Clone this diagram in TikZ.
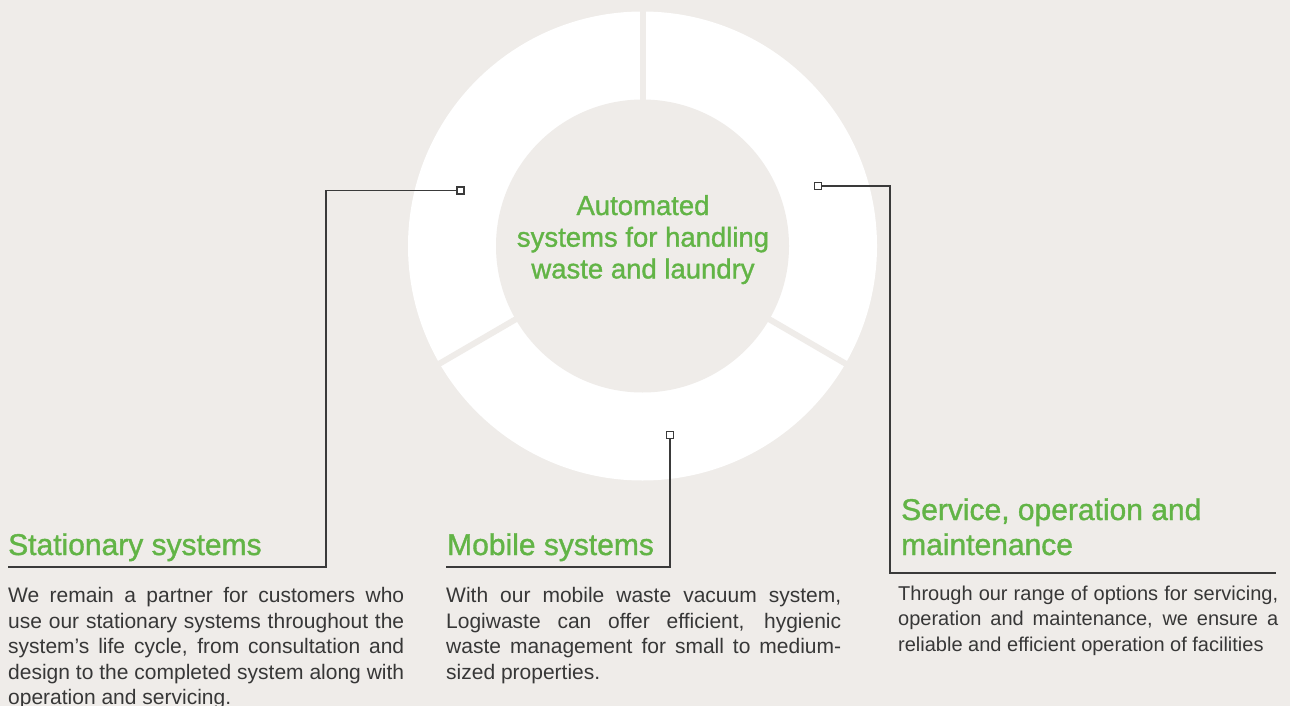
\documentclass[tikz,border=0pt]{standalone}
\usepackage{fontspec}
\setmainfont{Liberation Sans}
\newfontfamily\medfont[FakeBold=1.2]{Liberation Sans}
\definecolor{bgc}{RGB}{239,236,233}
\definecolor{grn}{RGB}{98,180,70}
\definecolor{txt}{RGB}{55,55,55}
\definecolor{lnc}{RGB}{58,58,58}
\tikzset{
  marker/.style={draw=lnc, line width=1.5pt, fill=white, minimum size=7pt, inner sep=0pt, rectangle},
  conn/.style={draw=lnc, line width=1.6pt},
  gap/.style={draw=bgc, line width=6pt},
  title/.style={text=grn, anchor=base west, inner sep=0pt, font=\medfont\fontsize{30}{35}\selectfont},
  body/.style={text=txt, anchor=base west, inner sep=0pt, align=justify},
}
\begin{document}
\begin{tikzpicture}[x=1pt,y=-1pt]
\fill[bgc] (0,0) rectangle (1290,706);
\useasboundingbox (0,0) rectangle (1290,706);
% donut
\coordinate (c) at (642.5,246);
\fill[white] (c) circle[radius=234.5pt];
\fill[bgc] (c) circle[radius=146.5pt];
\draw[gap] (642.5,106) -- (642.5,4);
\draw[gap] (521.3,316) -- (432,368);
\draw[gap] (763.7,316) -- (853,368);
% center text (base anchor = last line)
\node[text=grn, align=center, inner sep=0pt, anchor=base, font=\medfont\fontsize{27.5}{31.7}\selectfont] (ctr) at (643,278.4) {Automated\\systems for handling\\waste and laundry};
% markers
\node[marker] (sqL) at (460.5,190.5) {};
\node[marker] (sqR) at (818,186) {};
\node[marker] (sqM) at (670,435) {};
% titles
\node[title] (tS) at (8,555) {Stationary systems};
\node[title] (tM) at (447,555) {Mobile systems};
\node[title, align=left] (tV) at (901,555) {Service, operation and\\maintenance};
% connector corners
\coordinate (kL) at (326,190.5);
\coordinate (uL) at (326,567);
\coordinate (eL) at (8,567);
\coordinate (uM) at (670,567);
\coordinate (eM) at (446,567);
\coordinate (kR) at (890,186);
\coordinate (uR) at (890,573);
\coordinate (eR) at (1276,573);
\draw[conn] (sqL.west) -- (kL) -- (uL) -- (eL);
\draw[conn] (sqM.south) -- (uM) -- (eM);
\draw[conn] (sqR.east) -- (kR) -- (uR) -- (eR);
% bodies
\node[body, text width=396pt, font=\fontsize{21}{25.5}\selectfont] (bS) at (8,602.5) {We remain a partner for customers who\linebreak use our stationary systems throughout the\linebreak system's life cycle, from consultation and\linebreak design to the completed system along with\linebreak operation and servicing.};
\node[body, text width=395pt, font=\fontsize{21}{25.5}\selectfont] (bM) at (446,602.5) {With our mobile waste vacuum system,\linebreak Logiwaste can offer efficient, hygienic\linebreak waste management for small to medium-\linebreak sized properties.};
\node[body, text width=380pt, font=\fontsize{20}{25.5}\selectfont] (bV) at (898,600) {Through our range of options for servicing,\linebreak operation and maintenance, we ensure a\linebreak reliable and efficient operation of facilities};
\end{tikzpicture}
\end{document}
